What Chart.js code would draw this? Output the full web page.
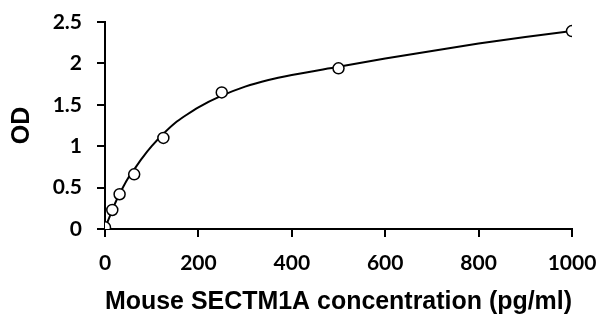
<!DOCTYPE html>
<html>
<head>
<meta charset="utf-8">
<script src="https://cdn.jsdelivr.net/npm/chart.js@4"></script>
<style>
  html, body { margin: 0; padding: 0; background: #fff; }
  #wrap { width: 601px; height: 317px; }
</style>
</head>
<body>
<div id="wrap"><canvas id="grafico"></canvas></div>
<script>
// pontos medidos (concentração x OD)
const concentracoes = [0, 15.6, 31.25, 62.5, 125, 250, 500, 1000];
const valoresOD = [0.02, 0.23, 0.42, 0.66, 1.10, 1.65, 1.94, 2.39];

// curva ajustada
const curvaX = [0, 10, 20, 30, 40, 50, 60, 80, 100, 125, 150, 175, 200, 250, 300, 350, 400, 500, 600, 700, 800, 900, 1000];
const curvaY = [0.01, 0.15, 0.29, 0.41, 0.52, 0.62, 0.70, 0.86, 1.00, 1.15, 1.28, 1.38, 1.47, 1.61, 1.72, 1.80, 1.86, 1.96, 2.06, 2.15, 2.24, 2.32, 2.39];

const ticksX = [0, 200, 400, 600, 800, 1000];
const ticksY = [0, 0.5, 1, 1.5, 2, 2.5];

const fonteTicks = { family: 'Lato, sans-serif', size: 21, weight: 'bold' };
const fonteTitulo = { family: '"Liberation Sans", Arial, sans-serif', size: 25, weight: 'bold' };

const ctx = document.getElementById('grafico').getContext('2d');
new Chart(ctx, {
  type: 'scatter',
  data: {
    datasets: [
      {
        label: 'curva',
        data: curvaX.map((x, i) => ({ x: x, y: curvaY[i] })),
        showLine: true,
        borderColor: '#000',
        borderWidth: 2,
        pointRadius: 0,
        cubicInterpolationMode: 'monotone',
        order: 2
      },
      {
        label: 'OD',
        data: concentracoes.map((x, i) => ({ x: x, y: valoresOD[i] })),
        showLine: false,
        pointRadius: 5.5,
        pointBorderWidth: 1.5,
        pointBackgroundColor: '#fff',
        pointBorderColor: '#000',
        order: 1
      }
    ]
  },
  options: {
    responsive: true,
    maintainAspectRatio: false,
    animation: false,
    layout: { padding: { top: 22, right: 29, left: 0, bottom: 0 } },
    plugins: { legend: { display: false }, tooltip: { enabled: false } },
    scales: {
      x: {
        type: 'linear',
        min: 0, max: 1000,
        afterBuildTicks: s => { s.ticks = ticksX.map(v => ({ value: v })); },
        afterFit: s => { s.height = 88; s.paddingLeft = 0; s.paddingRight = 0; },
        border: { display: true, color: '#000', width: 2 },
        grid: { drawOnChartArea: false, drawTicks: true, tickLength: 8, color: '#000', lineWidth: 2 },
        ticks: { color: '#000', font: fonteTicks, padding: 14, maxRotation: 0, callback: v => String(v) },
        title: { display: true, text: 'Mouse SECTM1A concentration (pg/ml)', color: '#000', font: fonteTitulo, padding: { top: 4, bottom: 0 } }
      },
      y: {
        type: 'linear',
        min: 0, max: 2.5,
        afterBuildTicks: s => { s.ticks = ticksY.map(v => ({ value: v })); },
        afterFit: s => { s.width = 105; s.paddingTop = 0; s.paddingBottom = 0; },
        border: { display: true, color: '#000', width: 2 },
        grid: { drawOnChartArea: false, drawTicks: true, tickLength: 8, color: '#000', lineWidth: 2 },
        ticks: { color: '#000', font: fonteTicks, padding: 15, callback: v => String(v) },
        title: { display: true, text: 'OD', color: '#000', font: fonteTitulo, padding: { top: 7, bottom: 0 } }
      }
    }
  }
});
</script>
</body>
</html>
